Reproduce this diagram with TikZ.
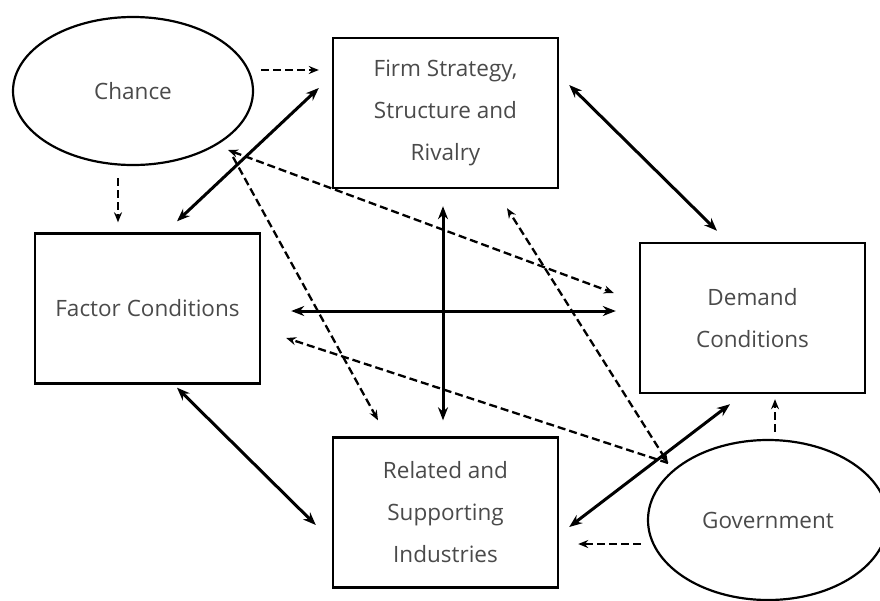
\documentclass[tikz,border=0pt]{standalone}
\usepackage{fontspec}
\setmainfont{Open Sans}
\usetikzlibrary{arrows.meta,shapes.geometric}
\definecolor{txtgrey}{HTML}{4A4A4A}

\begin{document}
\begin{tikzpicture}[x=1pt,y=-1pt,
  box/.style={draw,line width=2.4pt,minimum width=225pt,minimum height=150pt,inner sep=0pt,align=center,text=txtgrey,font=\fontsize{22.5}{42}\selectfont},
  oval/.style={draw,ellipse,line width=2.2pt,inner sep=0pt,text=txtgrey,font=\fontsize{22.5}{42}\selectfont},
  link/.style={line width=3pt,>={Stealth[length=13pt,width=10pt]},<->},
  hint/.style={line width=2.3pt,dash pattern=on 8pt off 4pt,>={Stealth[length=10pt,width=8pt]},->}]
  \clip (0,0) rectangle (880,600);
  % Boxes
  \node[box] (firm) at (445.5,113) {Firm Strategy,\\Structure and\\Rivalry};
  \node[box] (fac) at (147.5,308.5) {Factor Conditions};
  \node[box] (dem) at (752.5,318) {Demand\\Conditions};
  \node[box] (rel) at (445.5,512.5) {Related and\\Supporting\\Industries};
  % Outside influences
  \node[oval,minimum width=240pt,minimum height=148pt] (chance) at (133,91) {Chance};
  \node[oval,minimum width=240pt,minimum height=160pt] (gov) at (768,520) {Government};
  % Solid links
  \draw[link] ([shift={(29.5,-11)}]fac.north) -- ([shift={(-13,-25)}]firm.west);
  \draw[link] ([shift={(10,-28)}]firm.east) -- ([shift={(-35.5,-11)}]dem.north);
  \draw[link] ([shift={(29.5,3)}]fac.south) -- ([shift={(-16,12.5)}]rel.west);
  \draw[link] ([shift={(10,14.5)}]rel.east) -- ([shift={(-22.5,10)}]dem.south);
  \draw[link] ([shift={(30,2.5)}]fac.east) -- ([shift={(-23,-7)}]dem.west);
  \draw[link] ([shift={(-2.5,17)}]firm.south) -- ([shift={(-2.5,-16)}]rel.north);
  % Dashed influences
  \draw[hint] ([shift={(7,-21)}]chance.east) -- ([shift={(-13,-43)}]firm.west);
  \draw[hint] ([shift={(-15,12)}]chance.south) -- ([shift={(-29.5,-10)}]fac.north);
  \draw[hint,<->] ([shift={(95,59)}]chance.center) -- ([shift={(-25,-25)}]dem.west);
  \draw[hint] ([shift={(100,66)}]chance.center) -- ([shift={(-67.5,-16)}]rel.north);
  \draw[hint] ([shift={(7,-7)}]gov.north) -- ([shift={(22.5,5)}]dem.south);
  \draw[hint] ([shift={(-6,24)}]gov.west) -- ([shift={(19,31.5)}]rel.east);
  \draw[hint] ([shift={(-100,-57)}]gov.center) -- ([shift={(25,29.5)}]fac.east);
  \draw[hint,<->] ([shift={(-100,-57)}]gov.center) -- ([shift={(61.5,19)}]firm.south);
\end{tikzpicture}
\end{document}
